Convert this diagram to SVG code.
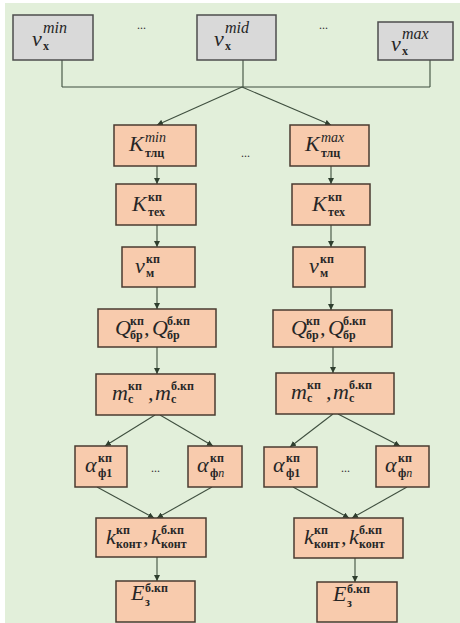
<svg xmlns="http://www.w3.org/2000/svg" width="460" height="623" viewBox="0 0 460 623">
<defs>
<style>
.bg{fill:#e2efda}
.g{fill:#d9d9d9;stroke:#4d4d4d;stroke-width:1.5}
.p{fill:#f8cbad;stroke:#4a3b30;stroke-width:1.5}
.c{stroke:#3f4f3f;stroke-width:1.1;fill:none}
.a{marker-end:url(#ah)}
.m{font-family:"Liberation Serif",serif;font-style:italic;font-size:22px;fill:#262626}
.s{font-family:"Liberation Serif",serif;font-size:12px;font-weight:bold;fill:#262626}
.si{font-family:"Liberation Serif",serif;font-style:italic;font-size:14px;fill:#262626}
.st{font-family:"Liberation Serif",serif;font-style:italic;font-size:16px;fill:#262626}
.d{font-family:"Liberation Serif",serif;font-size:12px;fill:#333}
</style>
<marker id="ah" viewBox="0 0 10 10" refX="10" refY="5" markerWidth="6" markerHeight="6" orient="auto" markerUnits="userSpaceOnUse">
<path d="M0,0 L10,5 L0,10 z" fill="#2f3f2f"/>
</marker>
</defs>
<rect x="5" y="3" width="455" height="620" class="bg"/>

<g id="connectors">
<path class="c" d="M62,60 V87 M243,60 V87 M430,60 V87 M62,87 H430"/>
<path class="c a" d="M242,87 L157,125"/>
<path class="c a" d="M242,87 L331,125"/>
<path class="c a" d="M157,166 V184"/>
<path class="c a" d="M157,225 V247"/>
<path class="c a" d="M157,287 V309"/>
<path class="c a" d="M157,347 V374"/>
<path class="c a" d="M155,415 L105,446"/>
<path class="c a" d="M160,415 L213,446"/>
<path class="c a" d="M97,487 L154,518"/>
<path class="c a" d="M212,487 L157,518"/>
<path class="c a" d="M157,557 V581"/>
<path class="c a" d="M331,166 V184"/>
<path class="c a" d="M331,225 V247"/>
<path class="c a" d="M331,287 V310"/>
<path class="c a" d="M333,347 V373"/>
<path class="c a" d="M333,414 L290,447"/>
<path class="c a" d="M338,414 L400,446"/>
<path class="c a" d="M293,487 L349,518"/>
<path class="c a" d="M407,487 L352,518"/>
<path class="c a" d="M355,558 V582"/>
</g>

<g id="vmin"><rect class="g" x="13" y="15" width="80" height="45"/>
<text class="m" x="32" y="46" font-size="26">v</text><text class="st" x="43" y="33">min</text><text class="s" x="43" y="50" font-size="14">х</text></g>
<text class="d" x="137" y="29">...</text>
<g id="vmid"><rect class="g" x="197" y="15" width="79" height="45"/>
<text class="m" x="214" y="46" font-size="26">v</text><text class="st" x="225" y="33">mid</text><text class="s" x="225" y="50" font-size="14">х</text></g>
<text class="d" x="319" y="29">...</text>
<g id="vmax"><rect class="g" x="378" y="22" width="75" height="38"/>
<text class="m" x="391" y="51" font-size="26">v</text><text class="st" x="402" y="39">max</text><text class="s" x="402" y="55" font-size="14">х</text></g>

<g id="Ktlc-min"><rect class="p" x="114" y="125" width="82" height="41"/>
<text class="m" x="129" y="151">K</text><text class="si" x="145" y="142">min</text><text class="s" x="145" y="157">тлц</text></g>
<text class="d" x="241" y="157">...</text>
<g id="Ktlc-max"><rect class="p" x="290" y="125" width="79" height="41"/>
<text class="m" x="305" y="151">K</text><text class="si" x="321" y="142">max</text><text class="s" x="321" y="157">тлц</text></g>

<g id="Ktex-l"><rect class="p" x="116" y="184" width="80" height="41"/>
<text class="m" x="132" y="211">K</text><text class="s" x="148" y="201">кп</text><text class="s" x="148" y="216">тех</text></g>
<g id="Ktex-r"><rect class="p" x="292" y="184" width="78" height="41"/>
<text class="m" x="312" y="211">K</text><text class="s" x="328" y="201">кп</text><text class="s" x="328" y="216">тех</text></g>

<g id="vm-l"><rect class="p" x="122" y="247" width="73" height="40"/>
<text class="m" x="135" y="273">v</text><text class="s" x="146" y="263">кп</text><text class="s" x="146" y="277">м</text></g>
<g id="vm-r"><rect class="p" x="293" y="247" width="72" height="40"/>
<text class="m" x="309" y="273">v</text><text class="s" x="320" y="263">кп</text><text class="s" x="320" y="277">м</text></g>

<g id="Q-l"><rect class="p" x="98" y="309" width="118" height="38"/>
<text class="m" x="115" y="335">Q</text><text class="s" x="130" y="325">кп</text><text class="s" x="130" y="339">бр</text>
<text class="m" x="144" y="335">,</text>
<text class="m" x="152" y="335">Q</text><text class="s" x="167" y="325">б.кп</text><text class="s" x="167" y="339">бр</text></g>
<g id="Q-r"><rect class="p" x="273" y="310" width="119" height="37"/>
<text class="m" x="291" y="335">Q</text><text class="s" x="306" y="325">кп</text><text class="s" x="306" y="339">бр</text>
<text class="m" x="320" y="335">,</text>
<text class="m" x="328" y="335">Q</text><text class="s" x="343" y="325">б.кп</text><text class="s" x="343" y="339">бр</text></g>

<g id="m-l"><rect class="p" x="96" y="374" width="119" height="41"/>
<text class="m" x="112" y="400">m</text><text class="s" x="128" y="390">кп</text><text class="s" x="128" y="403">с</text>
<text class="m" x="148" y="400">,</text>
<text class="m" x="155" y="400">m</text><text class="s" x="171" y="390">б.кп</text><text class="s" x="171" y="403">с</text></g>
<g id="m-r"><rect class="p" x="276" y="373" width="118" height="41"/>
<text class="m" x="291" y="399">m</text><text class="s" x="307" y="389">кп</text><text class="s" x="307" y="402">с</text>
<text class="m" x="326" y="399">,</text>
<text class="m" x="333" y="399">m</text><text class="s" x="349" y="389">б.кп</text><text class="s" x="349" y="402">с</text></g>

<g id="a1-l"><rect class="p" x="75" y="446" width="52" height="41"/>
<text class="m" x="85" y="472">α</text><text class="s" x="98" y="462">кп</text><text class="s" x="98" y="477">ф1</text></g>
<text class="d" x="151" y="472">...</text>
<g id="an-l"><rect class="p" x="188" y="446" width="54" height="41"/>
<text class="m" x="197" y="472">α</text><text class="s" x="210" y="462">кп</text><text class="s" x="210" y="477">ф<tspan font-style="italic" font-weight="normal">n</tspan></text></g>
<g id="a1-r"><rect class="p" x="264" y="447" width="53" height="40"/>
<text class="m" x="273" y="472">α</text><text class="s" x="286" y="462">кп</text><text class="s" x="286" y="477">ф1</text></g>
<text class="d" x="341" y="472">...</text>
<g id="an-r"><rect class="p" x="376" y="446" width="53" height="41"/>
<text class="m" x="385" y="472">α</text><text class="s" x="398" y="462">кп</text><text class="s" x="398" y="477">ф<tspan font-style="italic" font-weight="normal">n</tspan></text></g>

<g id="k-l"><rect class="p" x="96" y="518" width="110" height="39"/>
<text class="m" x="106" y="544">k</text><text class="s" x="116" y="534">кп</text><text class="s" x="116" y="548">конт</text>
<text class="m" x="143" y="544">,</text>
<text class="m" x="151" y="544">k</text><text class="s" x="161" y="534">б.кп</text><text class="s" x="161" y="548">конт</text></g>
<g id="k-r"><rect class="p" x="294" y="518" width="109" height="40"/>
<text class="m" x="304" y="544">k</text><text class="s" x="314" y="534">кп</text><text class="s" x="314" y="548">конт</text>
<text class="m" x="341" y="544">,</text>
<text class="m" x="349" y="544">k</text><text class="s" x="359" y="534">б.кп</text><text class="s" x="359" y="548">конт</text></g>

<g id="E-l"><rect class="p" x="116" y="581" width="79" height="41"/>
<text class="m" x="131" y="600">E</text><text class="s" x="145" y="592">б.кп</text><text class="s" x="145" y="606">з</text></g>
<g id="E-r"><rect class="p" x="317" y="582" width="80" height="40"/>
<text class="m" x="333" y="601">E</text><text class="s" x="347" y="593">б.кп</text><text class="s" x="347" y="607">з</text></g>
</svg>
